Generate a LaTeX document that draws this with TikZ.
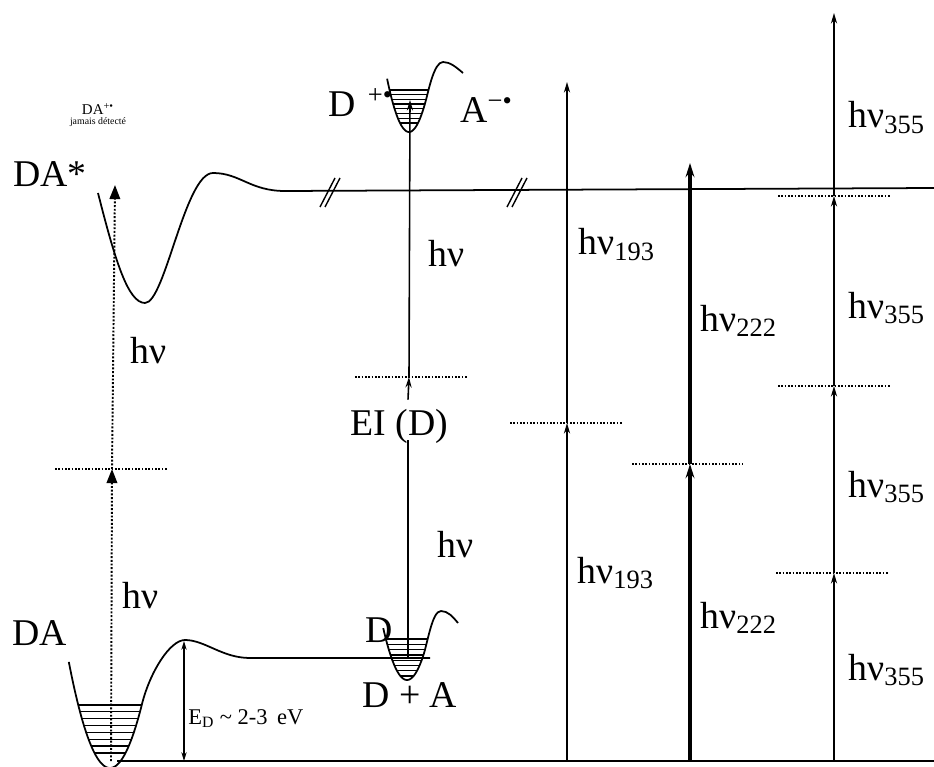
\documentclass[tikz,border=0pt]{standalone}
\usepackage{fontspec}
\setmainfont{Liberation Serif}
\usetikzlibrary{arrows.meta,positioning}

\newcommand{\hnu}[1]{hν\textsubscript{#1}}

\begin{document}
\begin{tikzpicture}[x=0.02cm,y=-0.02cm,
  lbl/.style={font=\fontsize{21.5}{24}\selectfont, inner sep=0pt, anchor=base west},
  curve/.style={line width=1pt},
  vib/.style={line width=0.7pt},
  level/.style={densely dotted, line width=0.9pt},
  photon/.style={line width=0.9pt, -{Stealth[length=6pt,width=3.5pt]}},
  bigphoton/.style={line width=2.3pt, -{Stealth[length=8pt,width=5pt]}},
  dotphoton/.style={densely dotted, line width=1.1pt, -{Triangle[length=8pt,width=6pt]}}]

  \useasboundingbox (0,0) rectangle (934,767);

  % ground line
  \draw[curve] (117,761) -- (934,761);

  % DA well and barrier
  \draw[curve] plot[domain=-10.3:8, samples=60] ({110+4*\x},{768-\x*\x})
    .. controls (150,672) and (170,640) .. (185,640)
    .. controls (205,640) and (222,658) .. (250,658) -- (430,658);
  \foreach \i in {0,...,7} {
    \pgfmathsetmacro\yy{705+6.85*\i}
    \pgfmathsetmacro\hw{4*sqrt(768-\yy)}
    \draw[vib] ({110-\hw},\yy) -- ({110+\hw},\yy);
  }

  % DA* curve
  \draw[curve] (98,193) .. controls (115,260) and (128,303) .. (145,303)
    .. controls (165,303) and (185,173) .. (213,173)
    .. controls (240,173) and (250,191) .. (285,191) -- (934,188);
  \foreach \xb in {320,507}
    \draw[line width=0.8pt] (\xb,207) -- ++(15,-29) (\xb+5,207) -- ++(15,-29);

  % D + A well
  \draw[curve] plot[domain=-7.2:4.8, samples=40] ({407+3.3*\x},{680-\x*\x})
    .. controls (428,642) and (432,611) .. (441,611)
    .. controls (448,611) and (453,617) .. (458,623);
  \foreach \i in {0,...,7} {
    \pgfmathsetmacro\yy{639+5.3*\i}
    \pgfmathsetmacro\hw{3.3*sqrt(680-\yy)}
    \draw[vib] ({407-\hw},\yy) -- ({407+\hw},\yy);
  }

  % D+ A- well
  \draw[curve] plot[domain=-7.3:5.5, samples=40] ({409+3*\x},{132-\x*\x})
    .. controls (428.5,91) and (434,62) .. (443,62)
    .. controls (450,62) and (456,67) .. (463,73);
  \foreach \i in {0,...,7} {
    \pgfmathsetmacro\yy{90+4.7*\i}
    \pgfmathsetmacro\hw{3*sqrt(132-\yy)}
    \draw[vib] ({409-\hw},\yy) -- ({409+\hw},\yy);
  }

  % left: two photons through DA*
  \coordinate (a0) at (111,761);
  \coordinate (a1) at (112,469);
  \coordinate (a2) at (115,185);
  \draw[level] (55,469) -- (167,469);
  \draw[dotphoton] (a0) -- (a1);
  \draw[dotphoton] (a1) -- (a2);

  % centre: ionisation of D
  \coordinate (c0) at (408,658);
  \coordinate (c1) at (409,377);
  \coordinate (c2) at (410,100);
  \node[lbl] (ei) at (350,435) {EI (D)};
  \draw[level] (355,377) -- (467,377);
  \draw[curve] (c0) -- ([yshift=2pt]ei.south -| c0);
  \draw[photon] ([yshift=5pt]ei.north -| c0) -- (c1);
  \draw[photon] (c1) -- (c2);

  % 193 nm
  \coordinate (p0) at (567,761);
  \coordinate (p1) at (567,423);
  \coordinate (p2) at (567,82);
  \draw[level] (510,423) -- (622,423);
  \draw[photon] (p0) -- (p1);
  \draw[photon] (p1) -- (p2);

  % 222 nm
  \coordinate (q0) at (690,761);
  \coordinate (q1) at (690,464);
  \coordinate (q2) at (690,163);
  \draw[level] (632,464) -- (743,464);
  \draw[bigphoton] (q0) -- (q1);
  \draw[bigphoton] (q1) -- (q2);

  % 355 nm
  \foreach \n/\y in {0/761,1/573,2/386,3/196,4/13}
    \coordinate (r\n) at (834,\y);
  \draw[level] (776,573) -- (888,573);
  \draw[level] (778,386) -- (890,386);
  \draw[level] (778,196) -- (890,196);
  \foreach \a/\b in {0/1,1/2,2/3,3/4}
    \draw[photon] (r\a) -- (r\b);

  % dissociation energy
  \coordinate (e0) at (184,641);
  \coordinate (e1) at (184,761);
  \draw[line width=0.8pt, {Stealth[length=5pt,width=3pt]}-{Stealth[length=5pt,width=3pt]}] (e0) -- (e1);
  \node[font=\fontsize{12.8}{14}\selectfont, inner sep=0pt, anchor=base west] (ed) at (188,724)
    {E\textsubscript{D} \textasciitilde{} 2-3 \,eV};

  % labels
  \node[lbl] (dastar) at (13,187) {DA*};
  \node[lbl] (da) at (12,645) {DA};
  \node[font=\fontsize{8.5}{9}\selectfont, inner sep=0pt] (dap) at (98,109) {DA\textsuperscript{+•}};
  \node[font=\fontsize{5.6}{7}\selectfont, inner sep=0pt, below=1.5pt of dap] (jd) {jamais détecté};
  \node[lbl] (dplus) at (328,117) {D\hspace{7pt}\textsuperscript{+•}};
  \node[lbl] (aminus) at (460,123) {A\textsuperscript{−•}};
  \node[lbl] (dd) at (365,642) {D};
  \node[lbl] (dpa) at (362,707) {D + A};

  \node[lbl] (h1) at (130,363) {hν};
  \node[lbl] (h2) at (122,608) {hν};
  \node[lbl] (h3) at (428,267) {hν};
  \node[lbl] (h4) at (437,557) {hν};
  \node[lbl] (h5) at (578,255) {\hnu{193}};
  \node[lbl] (h6) at (577,583) {\hnu{193}};
  \node[lbl] (h7) at (700,331) {\hnu{222}};
  \node[lbl] (h8) at (700,628) {\hnu{222}};
  \node[lbl] (h9) at (848,128) {\hnu{355}};
  \node[lbl] (h10) at (848,318) {\hnu{355}};
  \node[lbl] (h11) at (848,497) {\hnu{355}};
  \node[lbl] (h12) at (848,680) {\hnu{355}};
\end{tikzpicture}
\end{document}
